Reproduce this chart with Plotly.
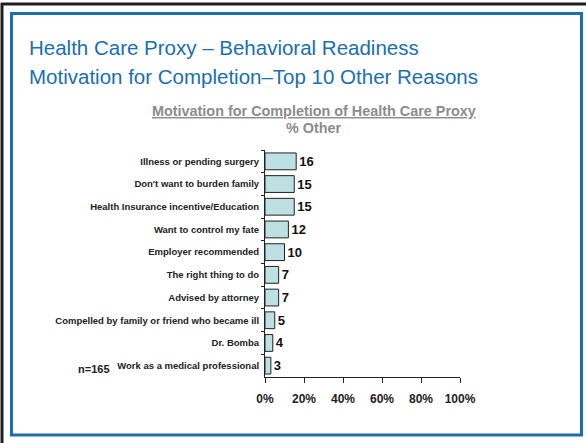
import plotly.graph_objects as go

categories = [
    "Illness or pending surgery",
    "Don't want to burden family",
    "Health Insurance incentive/Education",
    "Want to control my fate",
    "Employer recommended",
    "The right thing to do",
    "Advised by attorney",
    "Compelled by family or friend who became ill",
    "Dr. Bomba",
    "Work as a medical professional",
]
values = [16, 15, 15, 12, 10, 7, 7, 5, 4, 3]
x_ticks = [0, 20, 40, 60, 80, 100]
x_tick_labels = ["0%", "20%", "40%", "60%", "80%", "100%"]

W, H = 586, 443
FONT = "Arial, Liberation Sans, sans-serif"
BLUE = "#1a6fac"


def px(x):
    return x / W


def py(y):
    return 1 - y / H


fig = go.Figure(
    go.Bar(
        x=values,
        y=categories,
        orientation="h",
        width=0.74,
        marker=dict(color="#bde0e3", line=dict(color="#222222", width=1)),
        text=[str(v) for v in values],
        textposition="outside",
        textfont=dict(family=FONT, size=13, color="#111111", weight="bold"),
        cliponaxis=False,
    )
)

fig.update_layout(
    width=W,
    height=H,
    margin=dict(l=0, r=0, t=0, b=0),
    paper_bgcolor="white",
    plot_bgcolor="white",
    showlegend=False,
    font=dict(family=FONT),
)

fig.update_xaxes(
    domain=[px(265), px(460)],
    range=[0, 100],
    tickvals=x_ticks,
    ticktext=x_tick_labels,
    ticks="outside",
    ticklen=5,
    tickcolor="#222",
    showline=True,
    linecolor="#222",
    linewidth=1,
    showgrid=False,
    zeroline=False,
    automargin=False,
    ticklabelstandoff=6,
    tickfont=dict(family=FONT, size=12, color="#222", weight="bold"),
)
fig.update_yaxes(
    domain=[py(377), py(150)],
    autorange="reversed",
    type="category",
    ticks="outside",
    tickson="boundaries",
    ticklen=3,
    tickcolor="#222",
    showline=True,
    linecolor="#222",
    linewidth=1,
    showgrid=False,
    automargin=False,
    ticklabelstandoff=3,
    tickfont=dict(family=FONT, size=9.5, color="#222", weight="bold"),
)

for text, y in [
    ("Health Care Proxy \u2013 Behavioral Readiness", 48),
    ("Motivation for Completion\u2013Top 10 Other Reasons", 76),
]:
    fig.add_annotation(
        text=text, xref="paper", yref="paper",
        x=px(27), y=py(y),
        xanchor="left", yanchor="middle", showarrow=False,
        font=dict(family=FONT, size=20.5, color=BLUE),
    )

fig.add_annotation(
    text="<u>Motivation for Completion of Health Care Proxy</u>",
    xref="paper", yref="paper", x=px(314), y=py(111),
    xanchor="center", yanchor="middle", showarrow=False,
    font=dict(family=FONT, size=14.4, color="#8c8c8c", weight="bold"),
)
fig.add_annotation(
    text="% Other",
    xref="paper", yref="paper", x=px(314), y=py(128),
    xanchor="center", yanchor="middle", showarrow=False,
    font=dict(family=FONT, size=14.4, color="#8c8c8c", weight="bold"),
)
fig.add_annotation(
    text="n=165",
    xref="paper", yref="paper", x=px(76), y=py(369),
    xanchor="left", yanchor="middle", showarrow=False,
    font=dict(family=FONT, size=11, color="#222", weight="bold"),
)

# slide frame: black outer lines, blue inner border
fig.add_shape(type="line", xref="paper", yref="paper",
              x0=px(1), x1=1, y0=py(4), y1=py(4),
              line=dict(color="#1e1e1e", width=3))
fig.add_shape(type="line", xref="paper", yref="paper",
              x0=px(2), x1=px(2), y0=0, y1=py(3),
              line=dict(color="#1e1e1e", width=3))
fig.add_shape(type="rect", xref="paper", yref="paper",
              x0=px(11.5), x1=px(581.5), y0=py(435), y1=py(13.5),
              line=dict(color=BLUE, width=3))

fig.write_html("out.html")
